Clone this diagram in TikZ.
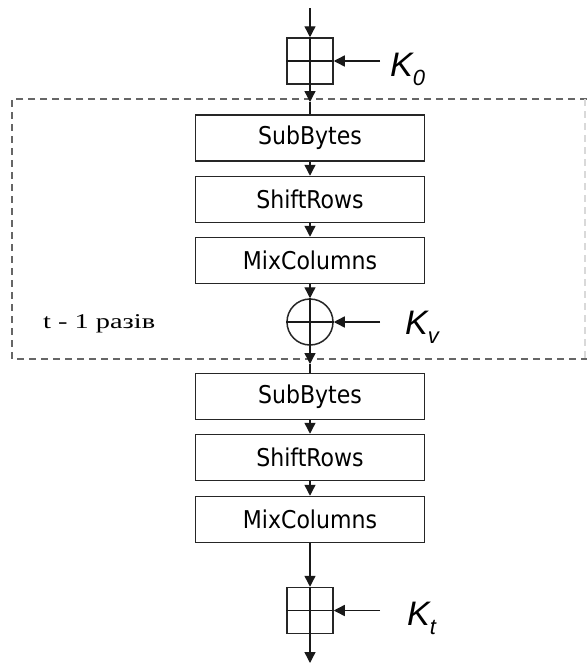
\documentclass[tikz,border=0pt]{standalone}
\usepackage{fontspec}
\setmainfont{DejaVu Sans Condensed}
\newfontfamily\kfont{Liberation Sans}
\newfontfamily\serfont{Liberation Serif}
\usetikzlibrary{arrows.meta}
\begin{document}
\begin{tikzpicture}[x=1pt,y=-1pt,
  stage/.style={draw=black!85, line width=1.5pt, minimum width=229pt, minimum height=46pt, inner sep=0pt, font=\fontsize{24.5}{24.5}\selectfont},
  xorbox/.style={draw=black!85, line width=1.5pt, minimum size=46pt, inner sep=0pt},
  xorcirc/.style={circle, draw=black!85, line width=1.5pt, minimum size=46pt, inner sep=0pt},
  flow/.style={line width=1.4pt, draw=black!90},
  tip/.style={-{Triangle[width=11pt,length=11pt]}},
  kl/.style={font=\kfont\itshape\fontsize{34}{34}\selectfont, anchor=base west, inner sep=0pt},
  frame/.style={draw=black!60, line width=2pt, dash pattern=on 7pt off 5pt}]
\useasboundingbox (0,0) rectangle (587,664);
\fill[white] (0,0) rectangle (587,664);
% dashed repeat frame
\draw[frame] (587,99) -- (12,99) -- (12,359) -- (587,359);
\draw[frame, draw=black!15] (585,99) -- (585,359);
% nodes
\node[xorbox] (k0) at (310,61) {};
\node[stage] (sb1) at (310,138) {SubBytes};
\node[stage] (sr1) at (310,199.5) {ShiftRows};
\node[stage] (mc1) at (310,260.5) {MixColumns};
\node[xorcirc] (xv) at (310,322) {};
\node[stage] (sb2) at (310,396.5) {SubBytes};
\node[stage] (sr2) at (310,457.5) {ShiftRows};
\node[stage] (mc2) at (310,519.5) {MixColumns};
\node[xorbox] (kt) at (310,610.5) {};
% coordinates
\coordinate (in) at (310,8);
\coordinate (out) at (310,663);
\coordinate (d1) at (310,102);
\coordinate (d2) at (310,364);
\coordinate (k0s) at (380,61);
\coordinate (kvs) at (380,322);
\coordinate (kts) at (380,610.5);
% crosses
\draw[flow] (k0.west) -- (k0.east);
\draw[flow] (xv.west) -- (xv.east);
\draw[flow] (kt.west) -- (kt.east);
\draw[flow] (k0.north) -- (k0.south);
\draw[flow] (xv.north) -- (xv.south);
\draw[flow] (kt.north) -- (kt.south);
% flow
\draw[flow,tip] (in) -- (k0.north);
\draw[flow,tip] (k0.south) -- (d1);
\draw[flow] (d1) -- (sb1.north);
\draw[flow,tip] (sb1.south) -- (sr1.north);
\draw[flow,tip] (sr1.south) -- (mc1.north);
\draw[flow,tip] (mc1.south) -- (xv.north);
\draw[flow,tip] (xv.south) -- (d2);
\draw[flow] (d2) -- (sb2.north);
\draw[flow,tip] (sb2.south) -- (sr2.north);
\draw[flow,tip] (sr2.south) -- (mc2.north);
\draw[flow,tip] (mc2.south) -- (kt.north);
\draw[flow,tip] (kt.south) -- (out);
% keys
\draw[flow,tip] (k0s) -- (k0.east);
\draw[flow,tip] (kvs) -- (xv.east);
\draw[flow,tip] (kts) -- (kt.east);
\node[kl] (k0l) at (390,76) {K\raisebox{-0.28em}{\fontsize{22}{22}\selectfont 0}};
\node[kl] (kvl) at (405,334) {K\raisebox{-0.28em}{\fontsize{22}{22}\selectfont v}};
\node[kl] (ktl) at (407,625) {K\raisebox{-0.28em}{\fontsize{22}{22}\selectfont t}};
\node[anchor=base west, inner sep=0pt] (rep) at (43,328) {\scalebox{1.35}[1]{\serfont\fontsize{21}{21}\selectfont t - 1 разів}};
\end{tikzpicture}
\end{document}
